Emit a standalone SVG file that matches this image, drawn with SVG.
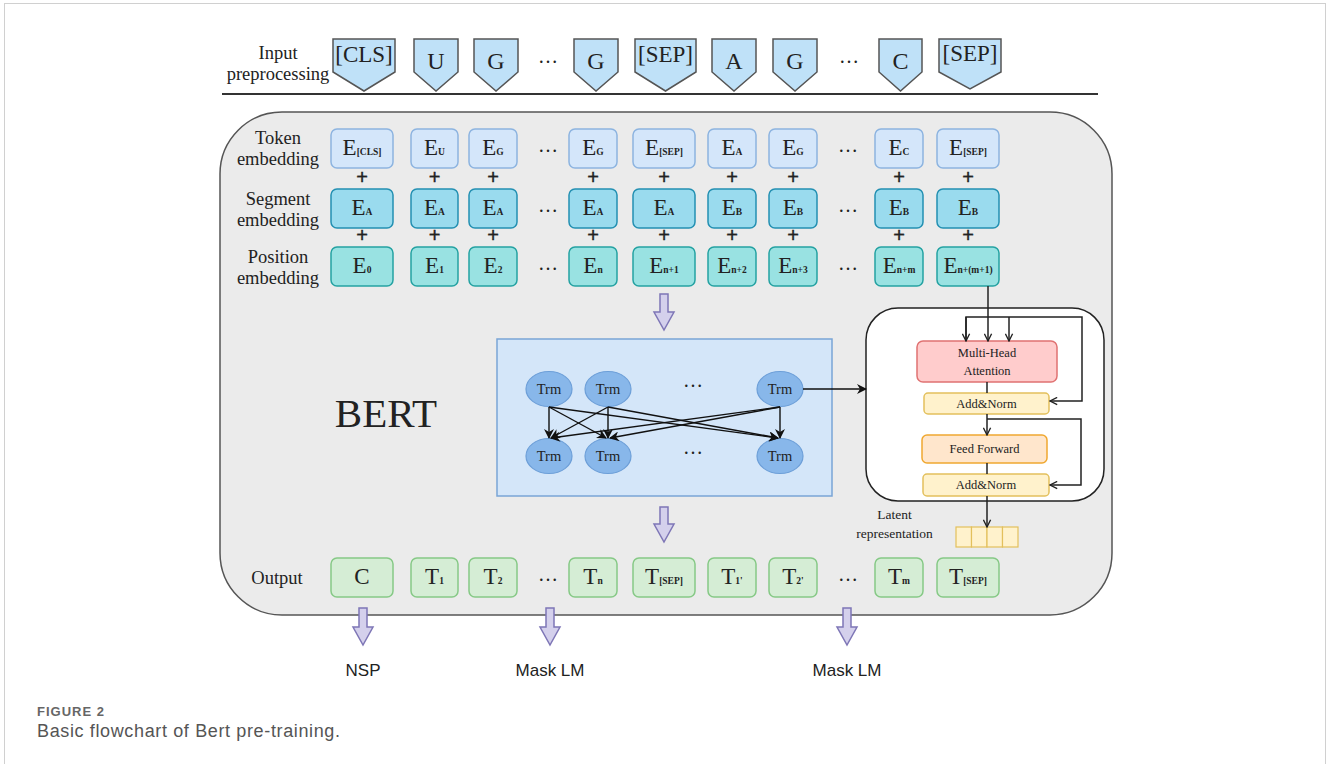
<svg xmlns="http://www.w3.org/2000/svg" width="1328" height="764" viewBox="0 0 1328 764">
<defs>
<style>
.ser{font-family:"Liberation Serif","Times New Roman",serif;fill:#222}
.sans{font-family:"Liberation Sans",Arial,sans-serif;fill:#222}
.lbl{font-size:18.5px;text-anchor:middle}
.E{font-size:23px;text-anchor:middle}
.sub{font-size:9.5px;font-weight:bold}
.plus{font-family:"Liberation Sans",Arial,sans-serif;font-size:20px;text-anchor:middle;fill:#222;stroke:#222;stroke-width:0.4}
.dots{font-family:"Liberation Serif",serif;font-size:20px;text-anchor:middle;fill:#222}
.pent{fill:#bfe1f8;stroke:#555;stroke-width:1.5}
.tok{fill:#d4e6fa;stroke:#8db4e0;stroke-width:1.5}
.seg{fill:#9adbee;stroke:#2390b2;stroke-width:1.5}
.pos{fill:#99e2e2;stroke:#24a2a2;stroke-width:1.5}
.out{fill:#d5edd5;stroke:#86c986;stroke-width:1.5}
.big{fill:#d4d0ec;stroke:#7e76b6;stroke-width:1.5}
.trm{fill:#88b7ea;stroke:#6d9fd8;stroke-width:1.2}
.tt{font-size:14.5px;text-anchor:middle}
.tf{font-size:12.5px;text-anchor:middle}
.ln{fill:none;stroke:#222;stroke-width:1.5}
</style>
<marker id="fa" viewBox="0 0 10 10" refX="9" refY="5" markerWidth="10" markerHeight="10" markerUnits="userSpaceOnUse" orient="auto">
<path d="M0,0 L10,5 L0,10 L3,5 z" fill="#111"/>
</marker>
<marker id="oa" viewBox="0 0 10 10" refX="9" refY="5" markerWidth="9" markerHeight="9" markerUnits="userSpaceOnUse" orient="auto">
<path d="M1,1 L9,5 L1,9" fill="none" stroke="#222" stroke-width="1.5"/>
</marker>
</defs>
<rect x="0" y="0" width="1328" height="764" fill="#fff"/>
<rect x="4.5" y="3.5" width="1321" height="780" fill="none" stroke="#d0d0d0" stroke-width="1"/>

<!-- Input preprocessing -->
<g id="input-label">
<text class="ser lbl" x="278" y="59">Input</text>
<text class="ser lbl" x="278" y="80">preprocessing</text>
</g>
<g id="in-cls"><polygon class="pent" points="333,39 395,39 395,72 364,91 333,72"/><text class="ser" x="364" y="62" font-size="23" text-anchor="middle">[CLS]</text></g>
<g id="in-u"><polygon class="pent" points="414,39 458,39 458,72 436,91 414,72"/><text class="ser" x="436" y="69" font-size="24" text-anchor="middle">U</text></g>
<g id="in-g1"><polygon class="pent" points="474,39 518,39 518,72 496,91 474,72"/><text class="ser" x="496" y="69" font-size="24" text-anchor="middle">G</text></g>
<text class="dots" x="548" y="63">…</text>
<g id="in-g2"><polygon class="pent" points="574,39 618,39 618,72 596,91 574,72"/><text class="ser" x="596" y="69" font-size="24" text-anchor="middle">G</text></g>
<g id="in-sep1"><polygon class="pent" points="635,39 696,39 696,72 665.5,91 635,72"/><text class="ser" x="665.5" y="62" font-size="23" text-anchor="middle">[SEP]</text></g>
<g id="in-a"><polygon class="pent" points="712,39 756,39 756,72 734,91 712,72"/><text class="ser" x="734" y="69" font-size="24" text-anchor="middle">A</text></g>
<g id="in-g3"><polygon class="pent" points="773,39 817,39 817,72 795,91 773,72"/><text class="ser" x="795" y="69" font-size="24" text-anchor="middle">G</text></g>
<text class="dots" x="849" y="63">…</text>
<g id="in-c"><polygon class="pent" points="879,39 922,39 922,72 900.5,91 879,72"/><text class="ser" x="900.5" y="69" font-size="24" text-anchor="middle">C</text></g>
<g id="in-sep2"><polygon class="pent" points="939,39 1001,39 1001,72 970,89 939,72"/><text class="ser" x="970" y="61" font-size="23" text-anchor="middle">[SEP]</text></g>
<line x1="222" y1="94" x2="1098" y2="94" stroke="#333" stroke-width="2"/>

<!-- BERT container -->
<g id="bert">
<rect x="220" y="112" width="892" height="503" rx="62" fill="#ebebeb" stroke="#555" stroke-width="1.5"/>
<text class="ser" x="386" y="427" font-size="41" text-anchor="middle">BERT</text>
</g>

<!-- row labels -->
<g id="row-labels">
<text class="ser lbl" x="278" y="144">Token</text>
<text class="ser lbl" x="278" y="165">embedding</text>
<text class="ser lbl" x="278" y="205">Segment</text>
<text class="ser lbl" x="278" y="226">embedding</text>
<text class="ser lbl" x="278" y="263">Position</text>
<text class="ser lbl" x="278" y="284">embedding</text>
<text class="ser lbl" x="277" y="584">Output</text>
</g>

<!-- Token embedding -->
<g id="tok-1"><rect class="tok" x="331" y="129" width="62" height="39" rx="6"/><text class="ser E" x="362" y="155">E<tspan class="sub">[CLS]</tspan></text></g>
<g id="tok-2"><rect class="tok" x="411" y="129" width="47" height="39" rx="6"/><text class="ser E" x="434.5" y="155">E<tspan class="sub">U</tspan></text></g>
<g id="tok-3"><rect class="tok" x="469" y="129" width="48" height="39" rx="6"/><text class="ser E" x="493" y="155">E<tspan class="sub">G</tspan></text></g>
<g id="tok-4"><rect class="tok" x="569" y="129" width="48" height="39" rx="6"/><text class="ser E" x="593" y="155">E<tspan class="sub">G</tspan></text></g>
<g id="tok-5"><rect class="tok" x="633" y="129" width="62" height="39" rx="6"/><text class="ser E" x="664" y="155">E<tspan class="sub">[SEP]</tspan></text></g>
<g id="tok-6"><rect class="tok" x="708" y="129" width="48" height="39" rx="6"/><text class="ser E" x="732" y="155">E<tspan class="sub">A</tspan></text></g>
<g id="tok-7"><rect class="tok" x="769" y="129" width="48" height="39" rx="6"/><text class="ser E" x="793" y="155">E<tspan class="sub">G</tspan></text></g>
<g id="tok-8"><rect class="tok" x="875" y="129" width="48" height="39" rx="6"/><text class="ser E" x="899" y="155">E<tspan class="sub">C</tspan></text></g>
<g id="tok-9"><rect class="tok" x="937" y="129" width="62" height="39" rx="6"/><text class="ser E" x="968" y="155">E<tspan class="sub">[SEP]</tspan></text></g>
<text class="dots" x="548" y="152">…</text>
<text class="dots" x="848" y="152">…</text>

<!-- plus signs -->
<g id="plus-1">
<text class="plus" x="362" y="184">+</text><text class="plus" x="434.5" y="184">+</text><text class="plus" x="493" y="184">+</text><text class="plus" x="593" y="184">+</text><text class="plus" x="664" y="184">+</text><text class="plus" x="732" y="184">+</text><text class="plus" x="793" y="184">+</text><text class="plus" x="899" y="184">+</text><text class="plus" x="968" y="184">+</text>
</g>
<g id="plus-2">
<text class="plus" x="362" y="242">+</text><text class="plus" x="434.5" y="242">+</text><text class="plus" x="493" y="242">+</text><text class="plus" x="593" y="242">+</text><text class="plus" x="664" y="242">+</text><text class="plus" x="732" y="242">+</text><text class="plus" x="793" y="242">+</text><text class="plus" x="899" y="242">+</text><text class="plus" x="968" y="242">+</text>
</g>

<!-- Segment embedding -->
<g id="seg-1"><rect class="seg" x="331" y="189" width="62" height="39" rx="6"/><text class="ser E" x="362" y="215">E<tspan class="sub">A</tspan></text></g>
<g id="seg-2"><rect class="seg" x="411" y="189" width="47" height="39" rx="6"/><text class="ser E" x="434.5" y="215">E<tspan class="sub">A</tspan></text></g>
<g id="seg-3"><rect class="seg" x="469" y="189" width="48" height="39" rx="6"/><text class="ser E" x="493" y="215">E<tspan class="sub">A</tspan></text></g>
<g id="seg-4"><rect class="seg" x="569" y="189" width="48" height="39" rx="6"/><text class="ser E" x="593" y="215">E<tspan class="sub">A</tspan></text></g>
<g id="seg-5"><rect class="seg" x="633" y="189" width="62" height="39" rx="6"/><text class="ser E" x="664" y="215">E<tspan class="sub">A</tspan></text></g>
<g id="seg-6"><rect class="seg" x="708" y="189" width="48" height="39" rx="6"/><text class="ser E" x="732" y="215">E<tspan class="sub">B</tspan></text></g>
<g id="seg-7"><rect class="seg" x="769" y="189" width="48" height="39" rx="6"/><text class="ser E" x="793" y="215">E<tspan class="sub">B</tspan></text></g>
<g id="seg-8"><rect class="seg" x="875" y="189" width="48" height="39" rx="6"/><text class="ser E" x="899" y="215">E<tspan class="sub">B</tspan></text></g>
<g id="seg-9"><rect class="seg" x="937" y="189" width="62" height="39" rx="6"/><text class="ser E" x="968" y="215">E<tspan class="sub">B</tspan></text></g>
<text class="dots" x="548" y="212">…</text>
<text class="dots" x="848" y="212">…</text>

<!-- Position embedding -->
<g id="pos-1"><rect class="pos" x="331" y="247" width="62" height="39" rx="6"/><text class="ser E" x="362" y="273">E<tspan class="sub">0</tspan></text></g>
<g id="pos-2"><rect class="pos" x="411" y="247" width="47" height="39" rx="6"/><text class="ser E" x="434.5" y="273">E<tspan class="sub">1</tspan></text></g>
<g id="pos-3"><rect class="pos" x="469" y="247" width="48" height="39" rx="6"/><text class="ser E" x="493" y="273">E<tspan class="sub">2</tspan></text></g>
<g id="pos-4"><rect class="pos" x="569" y="247" width="48" height="39" rx="6"/><text class="ser E" x="593" y="273">E<tspan class="sub">n</tspan></text></g>
<g id="pos-5"><rect class="pos" x="633" y="247" width="62" height="39" rx="6"/><text class="ser E" x="664" y="273">E<tspan class="sub">n+1</tspan></text></g>
<g id="pos-6"><rect class="pos" x="708" y="247" width="48" height="39" rx="6"/><text class="ser E" x="732" y="273">E<tspan class="sub">n+2</tspan></text></g>
<g id="pos-7"><rect class="pos" x="769" y="247" width="48" height="39" rx="6"/><text class="ser E" x="793" y="273">E<tspan class="sub">n+3</tspan></text></g>
<g id="pos-8"><rect class="pos" x="875" y="247" width="48" height="39" rx="6"/><text class="ser E" x="899" y="273">E<tspan class="sub">n+m</tspan></text></g>
<g id="pos-9"><rect class="pos" x="937" y="247" width="62" height="39" rx="6"/><text class="ser E" x="968" y="273">E<tspan class="sub">n+(m+1)</tspan></text></g>
<text class="dots" x="548" y="270">…</text>
<text class="dots" x="848" y="270">…</text>

<!-- Trm block -->
<g id="trm-block">
<rect x="497" y="339" width="335" height="157" fill="#d4e6f9" stroke="#7aa5d6" stroke-width="1.5"/>
</g>
<g id="trm-t1"><ellipse class="trm" cx="549" cy="389" rx="23" ry="17.5"/><text class="ser tt" x="549" y="394">Trm</text></g>
<g id="trm-t2"><ellipse class="trm" cx="608" cy="389" rx="23" ry="17.5"/><text class="ser tt" x="608" y="394">Trm</text></g>
<g id="trm-t3"><ellipse class="trm" cx="780" cy="389" rx="23" ry="17.5"/><text class="ser tt" x="780" y="394">Trm</text></g>
<g id="trm-b1"><ellipse class="trm" cx="549" cy="456" rx="23" ry="17.5"/><text class="ser tt" x="549" y="461">Trm</text></g>
<g id="trm-b2"><ellipse class="trm" cx="608" cy="456" rx="23" ry="17.5"/><text class="ser tt" x="608" y="461">Trm</text></g>
<g id="trm-b3"><ellipse class="trm" cx="780" cy="456" rx="23" ry="17.5"/><text class="ser tt" x="780" y="461">Trm</text></g>
<text class="dots" x="693" y="387">…</text>
<text class="dots" x="693" y="454">…</text>

<!-- Transformer detail -->
<g id="transformer">
<rect x="866" y="308" width="238" height="193" rx="32" fill="#fff" stroke="#222" stroke-width="1.5"/>
</g>
<g id="mha"><rect x="917" y="341" width="140" height="41" rx="6" fill="#ffcccc" stroke="#e07272" stroke-width="1.5"/><text class="ser tf" x="987" y="357">Multi-Head</text><text class="ser tf" x="987" y="375">Attention</text></g>
<g id="addnorm1"><rect x="924" y="393" width="125" height="21" rx="4" fill="#fff2cc" stroke="#e3c05c" stroke-width="1.5"/><text class="ser tf" x="986.5" y="408">Add&amp;Norm</text></g>
<g id="ff"><rect x="922" y="435" width="125" height="28" rx="5" fill="#ffe6cc" stroke="#f0a830" stroke-width="1.5"/><text class="ser tf" x="984.5" y="453">Feed Forward</text></g>
<g id="addnorm2"><rect x="923" y="474" width="126" height="22" rx="4" fill="#fff2cc" stroke="#e3c05c" stroke-width="1.5"/><text class="ser tf" x="986" y="489">Add&amp;Norm</text></g>
<g id="latent">
<text class="ser" x="894.5" y="519" font-size="13.5" text-anchor="middle">Latent</text>
<text class="ser" x="894.5" y="538" font-size="13.5" text-anchor="middle">representation</text>
<rect x="956" y="527" width="15.5" height="20" fill="#fff2cc" stroke="#e3c05c" stroke-width="1.2"/>
<rect x="971.5" y="527" width="15.5" height="20" fill="#fff2cc" stroke="#e3c05c" stroke-width="1.2"/>
<rect x="987" y="527" width="15.5" height="20" fill="#fff2cc" stroke="#e3c05c" stroke-width="1.2"/>
<rect x="1002.5" y="527" width="15.5" height="20" fill="#fff2cc" stroke="#e3c05c" stroke-width="1.2"/>
</g>

<!-- Output -->
<g id="out-1"><rect class="out" x="331" y="558" width="62" height="39" rx="6"/><text class="ser E" x="362" y="584">C</text></g>
<g id="out-2"><rect class="out" x="411" y="558" width="47" height="39" rx="6"/><text class="ser E" x="434.5" y="584">T<tspan class="sub">1</tspan></text></g>
<g id="out-3"><rect class="out" x="469" y="558" width="48" height="39" rx="6"/><text class="ser E" x="493" y="584">T<tspan class="sub">2</tspan></text></g>
<g id="out-4"><rect class="out" x="569" y="558" width="48" height="39" rx="6"/><text class="ser E" x="593" y="584">T<tspan class="sub">n</tspan></text></g>
<g id="out-5"><rect class="out" x="633" y="558" width="62" height="39" rx="6"/><text class="ser E" x="664" y="584">T<tspan class="sub">[SEP]</tspan></text></g>
<g id="out-6"><rect class="out" x="708" y="558" width="48" height="39" rx="6"/><text class="ser E" x="732" y="584">T<tspan class="sub">1'</tspan></text></g>
<g id="out-7"><rect class="out" x="769" y="558" width="48" height="39" rx="6"/><text class="ser E" x="793" y="584">T<tspan class="sub">2'</tspan></text></g>
<g id="out-8"><rect class="out" x="875" y="558" width="48" height="39" rx="6"/><text class="ser E" x="899" y="584">T<tspan class="sub">m</tspan></text></g>
<g id="out-9"><rect class="out" x="937" y="558" width="62" height="39" rx="6"/><text class="ser E" x="968" y="584">T<tspan class="sub">[SEP]</tspan></text></g>
<text class="dots" x="548" y="581">…</text>
<text class="dots" x="848" y="581">…</text>

<!-- task labels -->
<g id="tasks">
<text class="sans" x="363" y="676" font-size="17" text-anchor="middle">NSP</text>
<text class="sans" x="550" y="676" font-size="17" text-anchor="middle">Mask LM</text>
<text class="sans" x="847" y="676" font-size="17" text-anchor="middle">Mask LM</text>
</g>

<!-- connectors -->
<g id="connectors">
<polygon class="big" points="660,294 668,294 668,312 674,312 664,330 654,312 660,312"/>
<polygon class="big" points="660,507 668,507 668,524 674,524 664,542 654,524 660,524"/>
<polygon class="big" points="359,608 367,608 367,627 373,627 363,645 353,627 359,627"/>
<polygon class="big" points="546,608 554,608 554,627 560,627 550,645 540,627 546,627"/>
<polygon class="big" points="843,608 851,608 851,627 857,627 847,645 837,627 843,627"/>

<g stroke="#111" stroke-width="1.4" fill="none" marker-end="url(#fa)">
<line x1="549" y1="407" x2="549" y2="438"/>
<line x1="549" y1="407" x2="606" y2="438"/>
<line x1="549" y1="407" x2="778" y2="438"/>
<line x1="608" y1="407" x2="551" y2="438"/>
<line x1="608" y1="407" x2="608" y2="438"/>
<line x1="608" y1="407" x2="778" y2="438"/>
<line x1="780" y1="407" x2="551" y2="438"/>
<line x1="780" y1="407" x2="610" y2="438"/>
<line x1="780" y1="407" x2="780" y2="438"/>
<line x1="803" y1="389" x2="866" y2="389"/>
</g>

<path class="ln" d="M988,286 V341" marker-end="url(#oa)"/>
<path class="ln" d="M966,341 V317 H1082 V401 H1050" marker-end="url(#oa)"/>
<path class="ln" d="M966,317 V341" marker-end="url(#oa)"/>
<path class="ln" d="M1009,317 V341" marker-end="url(#oa)"/>
<path class="ln" d="M987,382 V393"/>
<path class="ln" d="M987,414 V435" marker-end="url(#oa)"/>
<path class="ln" d="M987,419 H1081 V485 H1050" marker-end="url(#oa)"/>
<path class="ln" d="M987,463 V474"/>
<path class="ln" d="M987,496 V527" marker-end="url(#oa)"/>
</g>

<!-- caption -->
<g id="caption">
<text class="sans" x="37" y="716" font-size="13" font-weight="bold" letter-spacing="1" style="fill:#666">FIGURE 2</text>
<text class="sans" x="37" y="737" font-size="18" textLength="303" style="fill:#555">Basic flowchart of Bert pre-training.</text>
</g>
</svg>
